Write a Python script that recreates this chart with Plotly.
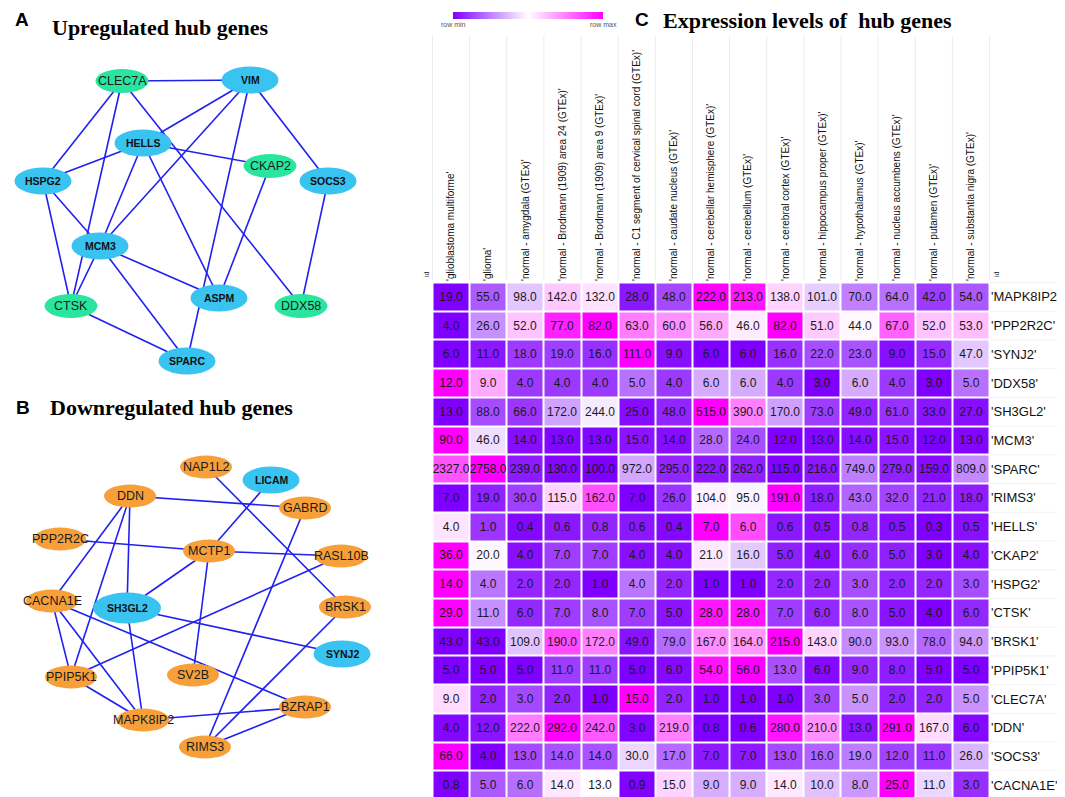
import numpy as np
import plotly.graph_objects as go

# ---------------- data: networks ----------------
up_names = ["CLEC7A", "VIM", "HELLS", "CKAP2", "HSPG2", "SOCS3", "MCM3", "CTSK", "ASPM", "DDX58", "SPARC"]
up_x = [114, 242, 135, 262, 35, 320, 92, 63, 211, 293, 179]
up_y = [73, 72, 135, 158, 173, 173, 238, 298, 290, 298, 353]
up_group = ["green", "blue", "blue", "green", "blue", "blue", "blue", "green", "blue", "green", "blue"]
up_edges = [("CLEC7A", "VIM"), ("CLEC7A", "HSPG2"), ("CLEC7A", "CTSK"), ("CLEC7A", "DDX58"),
            ("VIM", "HELLS"), ("VIM", "MCM3"), ("VIM", "SPARC"), ("VIM", "SOCS3"),
            ("HELLS", "HSPG2"), ("HELLS", "CKAP2"), ("HELLS", "MCM3"), ("HELLS", "ASPM"),
            ("HSPG2", "MCM3"), ("HSPG2", "CTSK"), ("CKAP2", "ASPM"), ("SOCS3", "DDX58"),
            ("MCM3", "CTSK"), ("MCM3", "ASPM"), ("MCM3", "SPARC"), ("CTSK", "SPARC")]

down_names = ["NAP1L2", "LICAM", "DDN", "GABRD", "PPP2R2C", "MCTP1", "RASL10B", "CACNA1E", "SH3GL2",
              "BRSK1", "SYNJ2", "PPIP5K1", "SV2B", "BZRAP1", "MAPK8IP2", "RIMS3"]
down_x = [198, 263, 122, 297, 52, 201, 333, 44, 119, 337, 334, 63, 185, 297, 135, 197]
down_y = [459, 472, 488, 500, 531, 543, 548, 593, 600, 599, 646, 669, 667, 699, 712, 739]
down_group = ["orange", "blue", "orange", "orange", "orange", "orange", "orange", "orange", "bigblue",
              "orange", "blue", "orange", "orange", "orange", "orange", "orange"]
down_edges = [("NAP1L2", "BRSK1"), ("LICAM", "MCTP1"), ("MCTP1", "SH3GL2"), ("DDN", "GABRD"),
              ("DDN", "CACNA1E"), ("DDN", "PPIP5K1"), ("DDN", "SH3GL2"), ("PPP2R2C", "MCTP1"),
              ("MCTP1", "RASL10B"), ("MCTP1", "SV2B"), ("GABRD", "RIMS3"), ("RASL10B", "PPIP5K1"),
              ("CACNA1E", "PPIP5K1"), ("CACNA1E", "MAPK8IP2"), ("CACNA1E", "BZRAP1"),
              ("SH3GL2", "SYNJ2"), ("SH3GL2", "MAPK8IP2"), ("BRSK1", "RIMS3"),
              ("PPIP5K1", "MAPK8IP2"), ("MAPK8IP2", "BZRAP1"), ("BZRAP1", "RIMS3")]

# ---------------- data: heatmap ----------------
tissues = ["'glioblastoma multiforme'", "'glioma'", "'normal - amygdala (GTEx)'",
           "'normal - Brodmann (1909) area 24 (GTEx)'", "'normal - Brodmann (1909) area 9 (GTEx)'",
           "'normal - C1 segment of cervical spinal cord (GTEx)'", "'normal - caudate nucleus (GTEx)'",
           "'normal - cerebellar hemisphere (GTEx)'", "'normal - cerebellum (GTEx)'",
           "'normal - cerebral cortex (GTEx)'", "'normal - hippocampus proper (GTEx)'",
           "'normal - hypothalamus (GTEx)'", "'normal - nucleus accumbens (GTEx)'",
           "'normal - putamen (GTEx)'", "'normal - substantia nigra (GTEx)'"]
genes = ["'MAPK8IP2'", "'PPP2R2C'", "'SYNJ2'", "'DDX58'", "'SH3GL2'", "'MCM3'", "'SPARC'", "'RIMS3'",
         "'HELLS'", "'CKAP2'", "'HSPG2'", "'CTSK'", "'BRSK1'", "'PPIP5K1'", "'CLEC7A'", "'DDN'",
         "'SOCS3'", "'CACNA1E'"]

MAPK8IP2 = [19, 55, 98, 142, 132, 28, 48, 222, 213, 138, 101, 70, 64, 42, 54]
PPP2R2C = [4, 26, 52, 77, 82, 63, 60, 56, 46, 82, 51, 44, 67, 52, 53]
SYNJ2 = [6, 11, 18, 19, 16, 111, 9, 6, 6, 16, 22, 23, 9, 15, 47]
DDX58 = [12, 9, 4, 4, 4, 5, 4, 6, 6, 4, 3, 6, 4, 3, 5]
SH3GL2 = [13, 88, 66, 172, 244, 25, 48, 515, 390, 170, 73, 49, 61, 33, 27]
MCM3 = [90, 46, 14, 13, 13, 15, 14, 28, 24, 12, 13, 14, 15, 12, 13]
SPARC = [2327, 2758, 239, 130, 100, 972, 295, 222, 262, 115, 216, 749, 279, 159, 809]
RIMS3 = [7, 19, 30, 115, 162, 7, 26, 104, 95, 191, 18, 43, 32, 21, 18]
HELLS = [4, 1, 0.4, 0.6, 0.8, 0.6, 0.4, 7, 6, 0.6, 0.5, 0.8, 0.5, 0.3, 0.5]
CKAP2 = [36, 20, 4, 7, 7, 4, 4, 21, 16, 5, 4, 6, 5, 3, 4]
HSPG2 = [14, 4, 2, 2, 1, 4, 2, 1, 1, 2, 2, 3, 2, 2, 3]
CTSK = [29, 11, 6, 7, 8, 7, 5, 28, 28, 7, 6, 8, 5, 4, 6]
BRSK1 = [43, 43, 109, 190, 172, 49, 79, 167, 164, 215, 143, 90, 93, 78, 94]
PPIP5K1 = [5, 5, 5, 11, 11, 5, 6, 54, 56, 13, 6, 9, 8, 5, 5]
CLEC7A = [9, 2, 3, 2, 1, 15, 2, 1, 1, 1, 3, 5, 2, 2, 5]
DDN = [4, 12, 222, 292, 242, 3, 219, 0.8, 0.6, 280, 210, 13, 291, 167, 6]
SOCS3 = [66, 4, 13, 14, 14, 30, 17, 7, 7, 13, 16, 19, 12, 11, 26]
CACNA1E = [0.8, 5, 6, 14, 13, 0.9, 15, 9, 9, 14, 10, 8, 25, 11, 3]

values = np.array([MAPK8IP2, PPP2R2C, SYNJ2, DDX58, SH3GL2, MCM3, SPARC, RIMS3, HELLS, CKAP2,
                   HSPG2, CTSK, BRSK1, PPIP5K1, CLEC7A, DDN, SOCS3, CACNA1E], dtype=float)

# ---------------- styles ----------------
W, H = 1065, 797
NODE_STYLE = {
    "blue":    dict(fill="#38c3f1", w=57, h=27),
    "bigblue": dict(fill="#38c3f1", w=68, h=31),
    "green":   dict(fill="#2ae59f", w=53, h=24),
    "orange":  dict(fill="#f7a03a", w=52, h=23),
}
EDGE_COLOR = "#2020f0"
SANS = "Liberation Sans, Arial, sans-serif"
SERIF = "Liberation Serif, Times New Roman, serif"

fig = go.Figure()
shapes = []
annotations = []


def add_network(names, xs, ys, groups, edges):
    pos = {n: (x, y) for n, x, y in zip(names, xs, ys)}
    ex, ey = [], []
    for a, b in edges:
        ex += [pos[a][0], pos[b][0], None]
        ey += [pos[a][1], pos[b][1], None]
    fig.add_trace(go.Scatter(x=ex, y=ey, mode="lines", xaxis="x", yaxis="y",
                             line=dict(color=EDGE_COLOR, width=1.6), hoverinfo="skip",
                             showlegend=False))
    for n, x, y, g in zip(names, xs, ys, groups):
        st = NODE_STYLE[g]
        shapes.append(dict(type="circle", xref="x", yref="y", layer="above",
                           x0=x - st["w"] / 2, x1=x + st["w"] / 2,
                           y0=y - st["h"] / 2, y1=y + st["h"] / 2,
                           fillcolor=st["fill"], line=dict(width=0)))
        if g in ("blue", "bigblue"):
            font = dict(family=SANS, size=10.5, color="#111111")
            txt = "<b>%s</b>" % n
        else:
            font = dict(family=SANS, size=12.5, color="#1a1a1a")
            txt = n
        annotations.append(dict(x=x, y=y, xref="x", yref="y", text=txt, showarrow=False,
                                font=font, xanchor="center", yanchor="middle"))


add_network(up_names, up_x, up_y, up_group, up_edges)
add_network(down_names, down_x, down_y, down_group, down_edges)

# ---------------- heatmap ----------------
rmin = values.min(axis=1, keepdims=True)
rmax = values.max(axis=1, keepdims=True)
znorm = (values - rmin) / (rmax - rmin)
text = [["%.1f" % v for v in row] for row in values]

hm_x0, hm_x1 = 424, 982
hm_y0, hm_y1 = 274, 792

fig.add_trace(go.Heatmap(
    z=znorm, x=tissues, y=genes, text=text, texttemplate="%{text}",
    textfont=dict(family=SANS, size=12, color="#1a1a1a"),
    colorscale=[[0, "#8000ff"], [0.5, "#ffffff"], [1, "#ff00ff"]], zmin=0, zmax=1,
    xgap=2, ygap=2, xaxis="x2", yaxis="y2", hoverinfo="skip",
    colorbar=dict(orientation="h", lenmode="pixels", len=150, thickness=7,
                  x=445 / W, xanchor="left", y=1 - 4 / H, yanchor="top",
                  xpad=0, ypad=0, outlinewidth=0, showticklabels=False, ticks=""),
))

# faint separators in the label areas
for k in range(len(tissues) + 1):
    shapes.append(dict(type="line", xref="x2", yref="y", x0=k - 0.5, x1=k - 0.5, y0=28, y1=272,
                       line=dict(color="#ececec", width=1), layer="below"))
for k in range(len(genes) + 1):
    shapes.append(dict(type="line", xref="x", yref="y2", x0=hm_x1, x1=W, y0=k - 0.5, y1=k - 0.5,
                       line=dict(color="#f2f2f2", width=1), layer="below"))

# ---------------- titles ----------------
titles = [
    dict(x=5, y=11.5, text="<b>A</b>", font=dict(family=SANS, size=19, color="#000"), xanchor="left"),
    dict(x=42, y=19.5, text="<b>Upregulated hub genes</b>", font=dict(family=SERIF, size=22, color="#000"), xanchor="left"),
    dict(x=6, y=399.5, text="<b>B</b>", font=dict(family=SANS, size=19, color="#000"), xanchor="left"),
    dict(x=40, y=399, text="<b>Downregulated hub genes</b>", font=dict(family=SERIF, size=22, color="#000"), xanchor="left"),
    dict(x=625, y=11.5, text="<b>C</b>", font=dict(family=SANS, size=19, color="#000"), xanchor="left"),
    dict(x=653, y=12.5, text="<b>Expression levels of  hub genes</b>", font=dict(family=SERIF, size=22, color="#000"), xanchor="left"),
    dict(x=445, y=16, text="row min", font=dict(family=SANS, size=7, color="#555"), xanchor="center"),
    dict(x=595, y=16, text="row max", font=dict(family=SANS, size=7, color="#555"), xanchor="center"),
    dict(x=418, y=266, text="id", textangle=-90, font=dict(family=SANS, size=7, color="#333"), xanchor="center"),
    dict(x=988, y=266, text="id", textangle=-90, font=dict(family=SANS, size=7, color="#333"), xanchor="center"),
]
for a in titles:
    a.update(xref="x", yref="y", showarrow=False, yanchor="middle")
annotations += titles

fig.update_layout(
    width=W, height=H, margin=dict(l=0, r=0, t=0, b=0),
    paper_bgcolor="white", plot_bgcolor="rgba(0,0,0,0)",
    showlegend=False,
    xaxis=dict(range=[0, W], domain=[0, 1], visible=False, fixedrange=True),
    yaxis=dict(range=[H, 0], domain=[0, 1], visible=False, fixedrange=True),
    xaxis2=dict(domain=[hm_x0 / W, hm_x1 / W], anchor="y2", side="top", tickangle=-90,
                tickfont=dict(family=SANS, size=10, color="#111"), showgrid=False,
                zeroline=False, ticks="", showline=False, fixedrange=True),
    yaxis2=dict(domain=[1 - hm_y1 / H, 1 - hm_y0 / H], anchor="x2", side="right",
                autorange="reversed", tickfont=dict(family=SANS, size=13, color="#111"),
                showgrid=False, zeroline=False, ticks="", showline=False, fixedrange=True),
    shapes=shapes, annotations=annotations,
)

fig.write_html("out.html")
